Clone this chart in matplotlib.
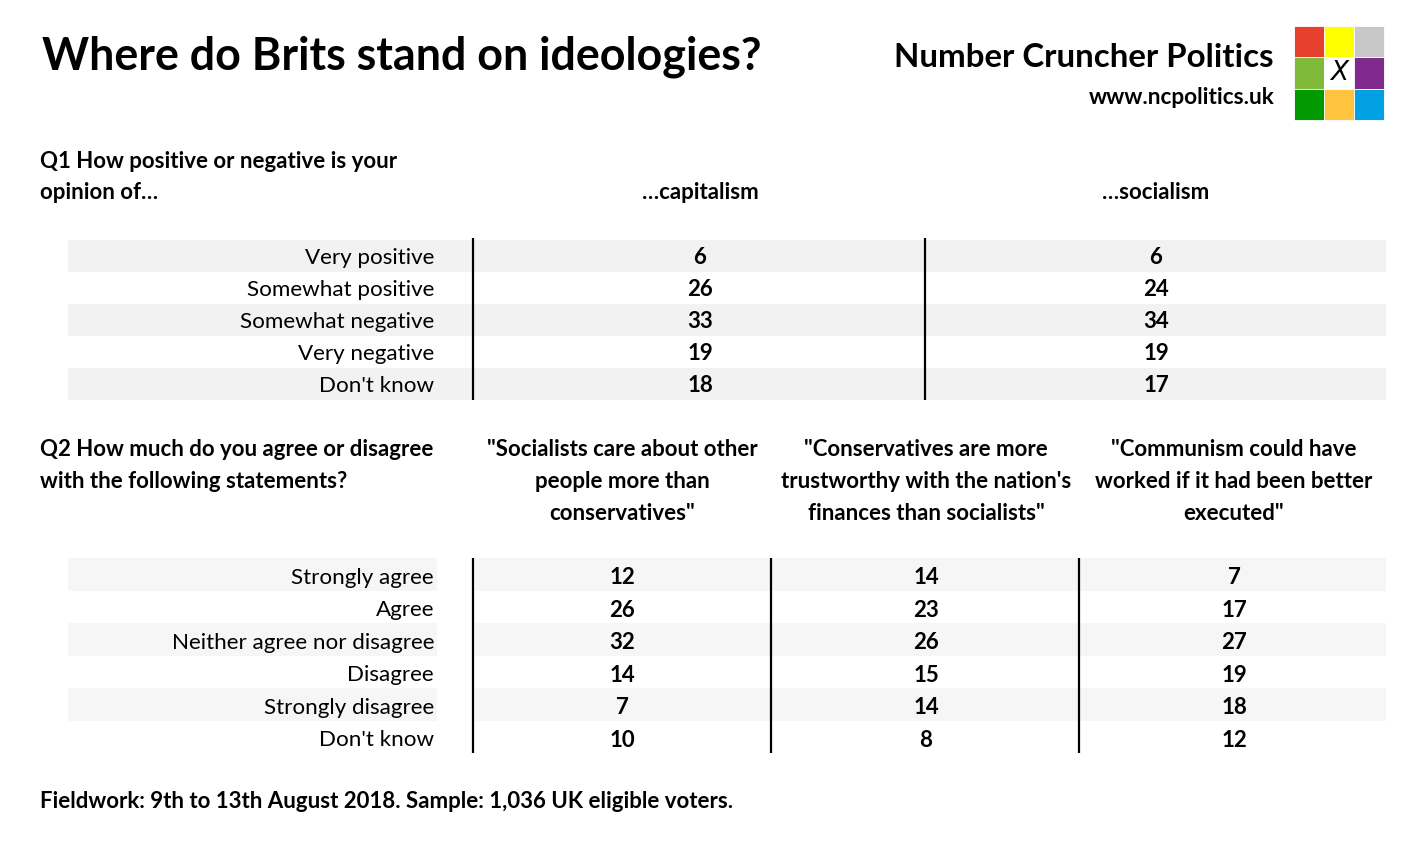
import matplotlib
matplotlib.use("Agg")
import matplotlib.pyplot as plt
from matplotlib.patches import Rectangle

# ---------------- data ----------------
title = "Where do Brits stand on ideologies?"
brand = "Number Cruncher Politics"
brand_url = "www.ncpolitics.uk"

q1_question = ["Q1 How positive or negative is your", "opinion of\u2026"]
q1_columns = ["\u2026capitalism", "\u2026socialism"]
q1_rows = ["Very positive", "Somewhat positive", "Somewhat negative", "Very negative", "Don't know"]
q1_capitalism = [6, 26, 33, 19, 18]
q1_socialism = [6, 24, 34, 19, 17]

q2_question = ["Q2 How much do you agree or disagree", "with the following statements?"]
q2_columns = [
    ["\"Socialists care about other", "people more than", "conservatives\""],
    ["\"Conservatives are more", "trustworthy with the nation's", "finances than socialists\""],
    ["\"Communism could have", "worked if it had been better", "executed\""],
]
q2_rows = ["Strongly agree", "Agree", "Neither agree nor disagree", "Disagree", "Strongly disagree", "Don't know"]
q2_socialists_care = [12, 26, 32, 14, 7, 10]
q2_conservatives_trust = [14, 23, 26, 15, 14, 8]
q2_communism = [7, 17, 27, 19, 18, 12]

footnote = "Fieldwork: 9th to 13th August 2018. Sample: 1,036 UK eligible voters."

logo_colors = ["#e8402f", "#ffff00", "#c8c8c8",
               "#7fba3a", "#ffffff", "#7f2a8c",
               "#009a00", "#ffc43d", "#00a0e2"]

# ---------------- layout ----------------
FONT = "Lato"
W, H = 1420, 850
fig = plt.figure(figsize=(W / 100, H / 100), dpi=100)
ax = fig.add_axes([0, 0, 1, 1])
ax.set_xlim(0, W)
ax.set_ylim(H, 0)
ax.axis("off")

STRIPE1 = "#f2f2f2"
STRIPE2 = "#f6f6f6"
BODY = 16.1
BOLD = 16.0

def txt(x, y, s, size=BODY, weight="normal", ha="left", va="center"):
    ax.text(x, y, s, fontsize=size, fontweight=weight, ha=ha, va=va,
            family=FONT, color="#000000")

# title + brand
txt(42, 57, title, size=32.3, weight="bold")
txt(1273, 57, brand, size=23.8, weight="bold", ha="right")
txt(1275, 97, brand_url, size=16.3, weight="bold", ha="right")

# logo
lx0, ly0, cw, ch = 1294, 26, 30, 31.3
for i, c in enumerate(logo_colors):
    r, k = divmod(i, 3)
    ax.add_patch(Rectangle((lx0 + k * cw, ly0 + r * ch), cw, ch,
                           facecolor=c, edgecolor="white", linewidth=0.6))
ax.text(lx0 + 1.5 * cw, ly0 + 1.5 * ch, "X", fontsize=19, family="DejaVu Sans",
        style="italic", ha="center", va="center", color="black")

# ---------------- Q1 ----------------
txt(40, 161, q1_question[0], size=BOLD, weight="bold")
txt(40, 192, q1_question[1], size=BOLD, weight="bold")
q1_cols_x = [700, 1156]
for cx, name in zip(q1_cols_x, q1_columns):
    txt(cx, 192, name, size=BOLD, weight="bold", ha="center")

q1_top, q1_pitch = 240, 32
q1_vals = [q1_capitalism, q1_socialism]
for i, lab in enumerate(q1_rows):
    y0 = q1_top + i * q1_pitch
    if i % 2 == 0:
        ax.add_patch(Rectangle((68, y0), 1386 - 68, q1_pitch, facecolor=STRIPE1,
                               edgecolor="none", zorder=0))
    yc = y0 + q1_pitch / 2 + 1.5
    txt(434, yc, lab, ha="right")
    for cx, vals in zip(q1_cols_x, q1_vals):
        txt(cx, yc, str(vals[i]), size=BOLD, weight="bold", ha="center")
for lx in [473, 925]:
    ax.plot([lx, lx], [q1_top - 2, q1_top + len(q1_rows) * q1_pitch], color="black",
            linewidth=1.6, solid_capstyle="butt")

# ---------------- Q2 ----------------
txt(40, 449, q2_question[0], size=BOLD, weight="bold")
txt(40, 481, q2_question[1], size=BOLD, weight="bold")
q2_cols_x = [622, 926, 1234]
for cx, lines in zip(q2_cols_x, q2_columns):
    for j, ln in enumerate(lines):
        txt(cx, 449 + 32 * j, ln, size=BOLD, weight="bold", ha="center")

q2_top, q2_pitch = 558, 32.5
q2_vals = [q2_socialists_care, q2_conservatives_trust, q2_communism]
for i, lab in enumerate(q2_rows):
    y0 = q2_top + i * q2_pitch
    if i % 2 == 0:
        ax.add_patch(Rectangle((68, y0), 437 - 68, q2_pitch, facecolor=STRIPE2,
                               edgecolor="none", zorder=0))
        ax.add_patch(Rectangle((475, y0), 1386 - 475, q2_pitch, facecolor=STRIPE2,
                               edgecolor="none", zorder=0))
    yc = y0 + q2_pitch / 2 + 3.5
    txt(434, yc, lab, ha="right")
    for cx, vals in zip(q2_cols_x, q2_vals):
        txt(cx, yc, str(vals[i]), size=BOLD, weight="bold", ha="center")
for lx in [473, 771, 1079]:
    ax.plot([lx, lx], [q2_top, q2_top + len(q2_rows) * q2_pitch], color="black",
            linewidth=1.6, solid_capstyle="butt")

# footnote
txt(40, 802, footnote, size=BOLD, weight="bold")

fig.savefig("out.png", dpi=100, facecolor="white")
